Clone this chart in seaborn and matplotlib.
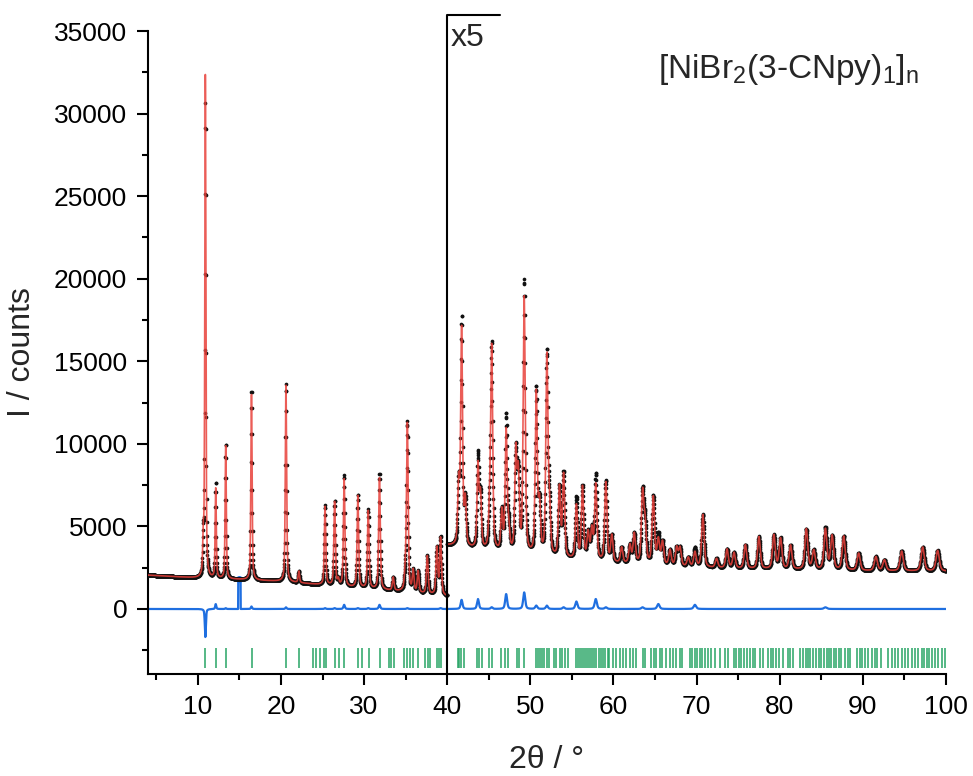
import numpy as np
import pandas as pd
import matplotlib
matplotlib.use("Agg")
import matplotlib.pyplot as plt
import seaborn as sns

# ---------------- data ----------------
# background levels (counts); right part is the x5-scaled display
BG_LEFT_X = [4, 10, 15, 20, 25, 30, 35, 40]
BG_LEFT_Y = [2050, 1870, 1780, 1670, 1450, 1240, 1020, 760]
BG_RIGHT_X = [40, 45, 50, 55, 60, 65, 70, 75, 80, 90, 100]
BG_RIGHT_Y = [3850, 3450, 3150, 2950, 2750, 2600, 2500, 2420, 2380, 2300, 2280]

# peaks 4-40 deg: position, observed height above background, calculated height
LEFT_POS = [10.65, 10.90, 12.15, 13.35, 16.45, 20.60, 22.15, 25.30, 26.45, 26.90,
            27.60, 29.25, 30.50, 31.85, 33.50, 34.95, 35.20, 35.90, 36.50, 37.60,
            38.75, 39.20]
LEFT_OBS = [2200, 28700, 5800, 8200, 11500, 12000, 700, 4800, 5150, 350,
            6750, 5650, 4750, 7050, 800, 900, 10200, 1300, 1300, 2300,
            2850, 3500]
LEFT_CALC = [2200, 30400, 5500, 8150, 11350, 11900, 700, 4750, 5100, 350,
             6500, 5600, 4700, 6800, 800, 900, 10150, 1300, 1300, 2300,
             2850, 3450]

# peaks 40-100 deg (displayed x5): position, observed, calculated
RIGHT_POS = [41.37, 41.73, 42.17, 43.70, 44.00, 45.10, 45.35, 46.56, 47.09, 47.40,
             48.25, 48.55, 49.26, 50.71, 51.10, 51.99, 52.30, 53.50, 54.00, 55.54,
             56.27, 56.95, 57.40, 57.87, 59.08, 59.80, 60.98, 61.98, 62.50, 63.50,
             63.80, 64.79, 65.40, 65.90, 66.80, 67.60, 68.00, 69.00, 69.80, 70.76,
             72.40, 73.66, 74.50, 75.87, 77.50, 79.30, 80.10, 81.30, 83.20, 84.10,
             85.50, 86.30, 87.70, 89.50, 91.57, 92.60, 94.67, 97.20, 99.00]
RIGHT_OBS = [3700, 13700, 2700, 5600, 3200, 2200, 12300, 2400, 8200, 1300,
             6000, 4600, 16500, 10000, 3000, 12200, 2700, 4200, 5100, 3700,
             4400, 1600, 1800, 5200, 4900, 1600, 950, 1100, 1800, 4300,
             2300, 4100, 1800, 1400, 950, 1100, 1100, 550, 1150, 3200,
             550, 1150, 950, 1450, 1950, 2050, 1850, 1450, 2450, 1150,
             2550, 2050, 2050, 1050, 850, 650, 1200, 1450, 1250]
RIGHT_CALC = [3700, 13150, 2700, 5000, 3200, 2200, 12200, 2400, 7300, 1300,
              6000, 4600, 15500, 9800, 3000, 12000, 2700, 4200, 5000, 3250,
              4400, 1600, 1800, 4600, 4800, 1600, 950, 1100, 1800, 4200,
              2300, 4100, 1500, 1400, 950, 1100, 1100, 550, 900, 3200,
              550, 1150, 950, 1450, 1950, 2050, 1850, 1450, 2450, 1150,
              2450, 2050, 2050, 1050, 850, 650, 1200, 1450, 1250]

# excluded region (deg) shown in the difference curve
EXCLUDED = (14.85, 15.15)

# Bragg reflection positions (deg)
REFLECTIONS = [10.86, 12.19, 13.40, 16.49, 20.64, 22.16, 23.90, 24.20, 24.66, 25.18,
               25.42, 26.47, 26.96, 27.64, 29.25, 29.70, 30.58, 31.87, 32.99, 33.27,
               33.64, 34.81, 35.13, 35.49, 35.89, 36.53, 37.38, 37.67, 37.91, 38.76,
               39.03, 39.28,
               41.24, 41.45, 41.69, 41.97, 43.58, 43.86, 44.14, 45.06, 45.34, 46.47,
               46.95, 47.35, 48.35, 48.67, 49.20, 50.68, 50.92, 51.16, 51.40, 51.65,
               51.97, 52.29, 52.89, 53.09, 53.57, 53.77, 54.14, 54.50, 55.50, 55.74,
               55.98, 56.22, 56.46, 56.70, 56.95, 57.19, 57.43, 57.67, 57.91, 58.23,
               58.55, 58.80, 59.04, 59.32, 59.52, 59.92, 60.33, 60.73, 61.13, 61.53,
               61.93, 62.33, 62.74, 63.54, 63.82, 64.54, 64.86, 65.14, 65.55, 65.83,
               66.35, 66.83, 67.15, 67.55, 67.96, 68.24, 69.16, 69.44, 69.76, 70.08,
               70.41, 70.65, 70.97, 71.37, 71.77, 72.17, 72.78, 73.46, 73.78, 74.50,
               74.78, 75.06, 75.39, 75.71, 76.11, 76.43, 76.79, 77.07, 77.60, 78.00,
               78.60, 78.92, 79.20, 79.60, 79.92, 80.41, 81.01, 81.29, 81.61, 82.49,
               82.82, 83.14, 83.42, 83.70, 84.02, 84.34, 84.74, 85.02, 85.31, 85.63,
               85.95, 86.23, 86.51, 86.83, 87.15, 87.43, 87.84, 88.16, 88.44, 89.32,
               89.64, 89.96, 90.25, 90.65, 91.05, 91.45, 91.73, 92.17, 93.06, 93.46,
               93.86, 94.26, 94.66, 95.07, 95.47, 95.87, 96.27, 96.67, 97.07, 97.35,
               97.68, 98.00, 98.28, 98.68, 99.08, 99.48, 99.88]

# ---------------- build profiles ----------------
def profile(x, pos, amp):
    y = np.zeros_like(x)
    for p, a in zip(pos, amp):
        w = 0.15 + 0.0035 * (p - 10)
        d = (x - p) / w
        y += a * (0.5 / (1 + 4 * d * d) + 0.5 * np.exp(-4 * np.log(2) * d * d))
    return y

xl = np.arange(4.0, 40.0001, 0.02)
xr = np.arange(40.0, 100.0001, 0.02)
bgl = np.interp(xl, BG_LEFT_X, BG_LEFT_Y)
bgr = np.interp(xr, BG_RIGHT_X, BG_RIGHT_Y)
obs_l = bgl + profile(xl, LEFT_POS, LEFT_OBS)
calc_l = bgl + profile(xl, LEFT_POS, LEFT_CALC)
obs_r = bgr + profile(xr, RIGHT_POS, RIGHT_OBS)
calc_r = bgr + profile(xr, RIGHT_POS, RIGHT_CALC)

x = np.concatenate([xl, xr])
obs = np.concatenate([obs_l, obs_r])
calc = np.concatenate([calc_l, calc_r])
diff = obs - calc
mask_ex = (x >= EXCLUDED[0]) & (x <= EXCLUDED[1])
diff[mask_ex] = obs[mask_ex]

df = pd.DataFrame({"x": x, "obs": obs, "calc": calc, "diff": diff})

# ---------------- plot ----------------
sns.set_theme(style="ticks")
plt.rcParams["font.family"] = ["Liberation Sans", "DejaVu Sans"]
plt.rcParams["mathtext.fontset"] = "custom"
plt.rcParams["mathtext.rm"] = "Liberation Sans"
plt.rcParams["mathtext.it"] = "Liberation Sans:italic"

fig = plt.figure(figsize=(9.73, 7.76), dpi=100)
ax = fig.add_axes([0.1521, 0.1314, 0.8201, 0.8286])

BLUE = "#1f6fe0"
RED = "#e8403a"
GREEN = "#27a465"

sns.lineplot(data=df, x="x", y="diff", ax=ax, color=BLUE, lw=1.6, zorder=2)
sns.scatterplot(data=df[mask_ex].iloc[[len(df[mask_ex]) // 2]], x="x", y="diff",
                ax=ax, color=BLUE, s=25, linewidth=0, zorder=2)
sns.scatterplot(data=df, x="x", y="obs", ax=ax, color="#111111", s=7,
                linewidth=0, zorder=3)
sns.lineplot(data=df, x="x", y="calc", ax=ax, color=RED, lw=1.2, alpha=0.85,
             zorder=4)
ax.vlines(REFLECTIONS, -3600, -2350, color=GREEN, lw=1.1, zorder=2)

# x5 marker
ax.plot([40, 40, 46.3], [-3940, 35970, 35970], color="black", lw=1.5,
        clip_on=False, zorder=5)
ax.text(40.45, 35500, "x5", fontsize=23, ha="left", va="top", zorder=6)

ax.text(65.3, 32700, r"[NiBr$_2$(3-CNpy)$_1$]$_\mathrm{n}$", fontsize=24,
        ha="left", va="center")

ax.set_xlim(4, 100)
ax.set_ylim(-3940, 35000)
ax.set_xticks(range(10, 101, 10))
ax.set_xticks(range(5, 101, 10), minor=True)
ax.set_yticks(range(0, 35001, 5000))
ax.set_yticks(range(-2500, 35001, 5000), minor=True)
ax.tick_params(axis="both", which="major", length=8, width=1.5, labelsize=19,
               pad=7, color="black", labelcolor="black")
ax.tick_params(axis="both", which="minor", length=4.5, width=1.5, color="black")
for s in ["top", "right"]:
    ax.spines[s].set_visible(False)
for s in ["left", "bottom"]:
    ax.spines[s].set_linewidth(1.5)
    ax.spines[s].set_color("black")

ax.set_xlabel(r"2θ / °", fontsize=23, labelpad=19)
ax.set_ylabel("I / counts", fontsize=23, labelpad=12)

fig.savefig("out.png", dpi=100, facecolor="white")
